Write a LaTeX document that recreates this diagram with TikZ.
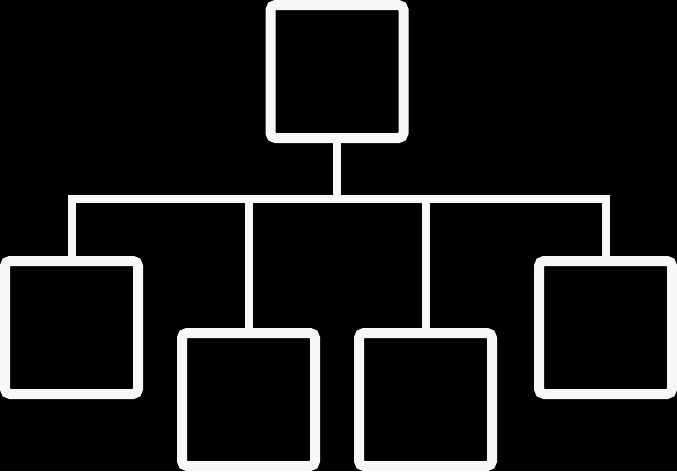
\documentclass[tikz,border=0pt]{standalone}
\begin{document}
\begin{tikzpicture}[x=1pt,y=-1pt,
  box/.style={draw=linec,line width=10pt,rounded corners=5pt,minimum size=133pt,inner sep=0pt,outer sep=5pt},
  conn/.style={draw=linec,line width=8pt,line join=miter}]
\definecolor{linec}{HTML}{F7F7F7}
\fill[black] (0,0) rectangle (677,471);
\useasboundingbox (0,0) rectangle (677,471);
\node[box] (top) at (337,71.5) {};
\node[box] (a) at (71.5,327.5) {};
\node[box] (b) at (248.5,399.5) {};
\node[box] (c) at (425.5,399.5) {};
\node[box] (d) at (605.5,327.5) {};
\coordinate (hub) at (337,199);
\draw[conn] (top.south) -- (hub);
\draw[conn] (a.north) |- (hub) -| (d.north);
\draw[conn] (b.north) -- (b.north |- hub);
\draw[conn] (c.north) -- (c.north |- hub);
\end{tikzpicture}
\end{document}
